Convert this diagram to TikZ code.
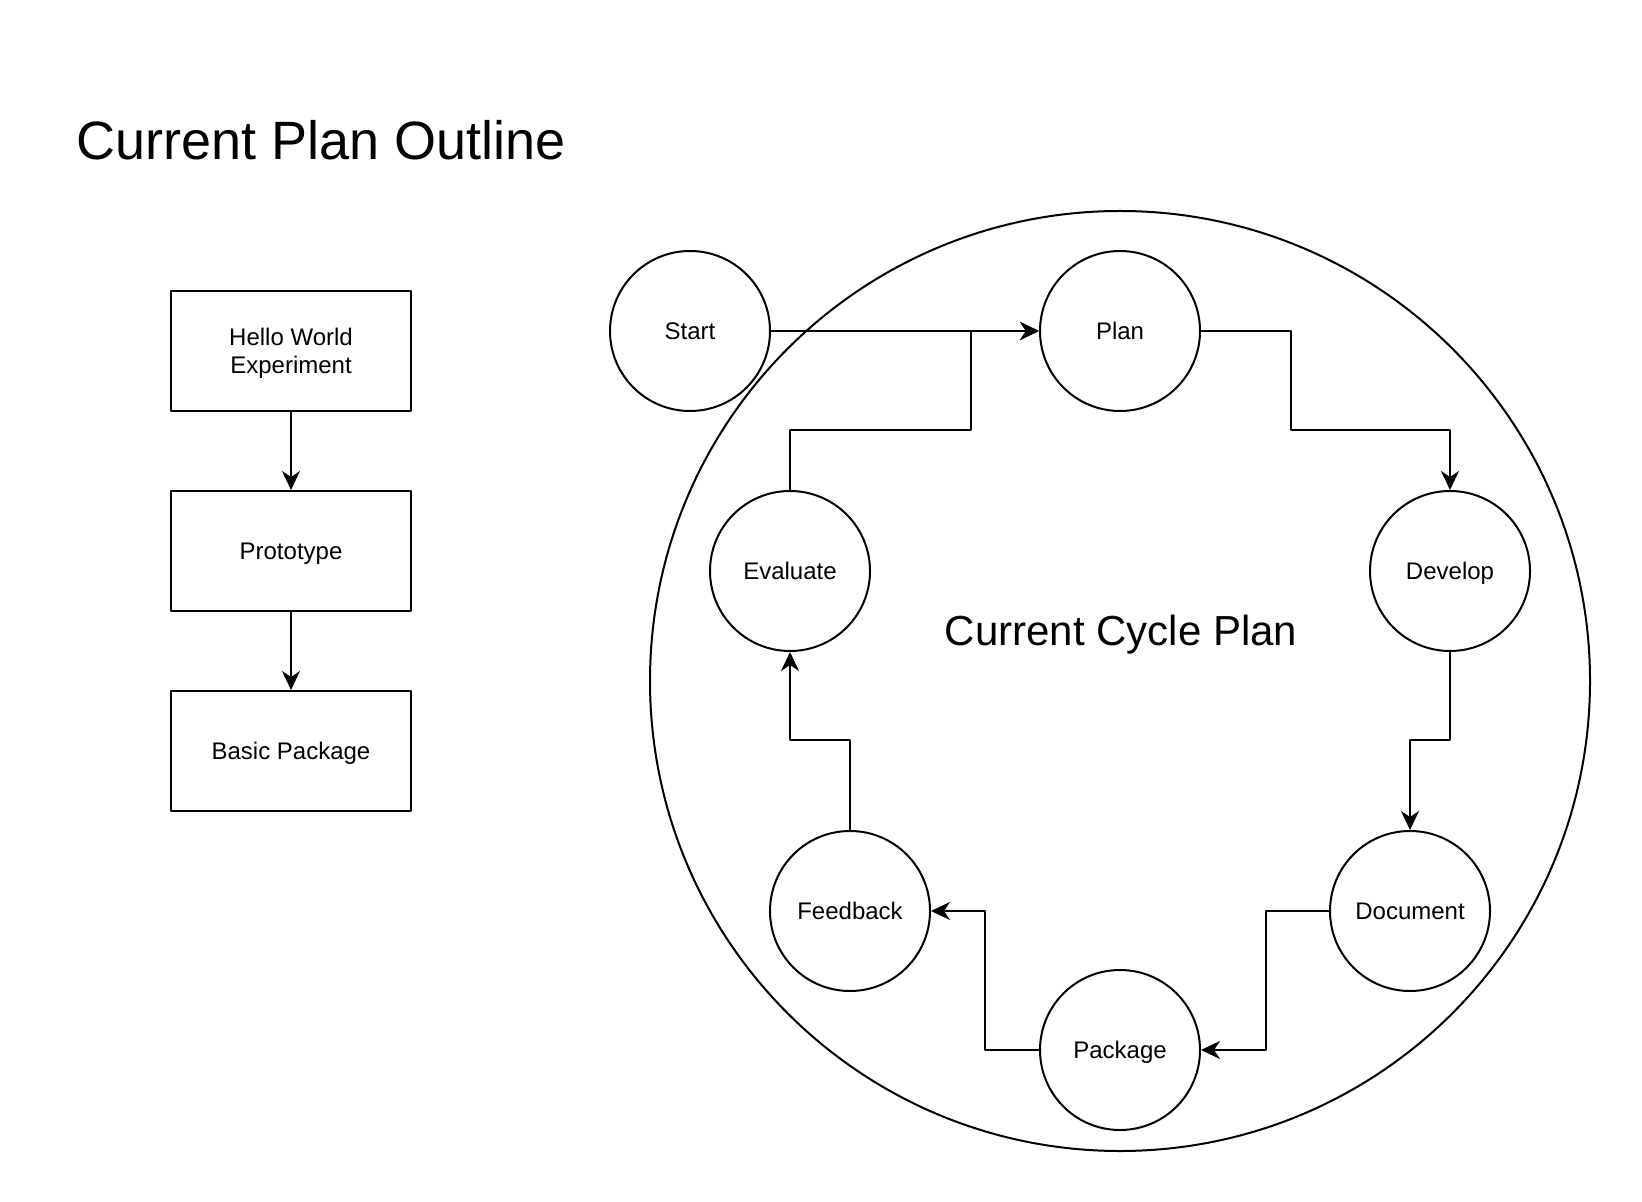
\documentclass[tikz,border=0pt]{standalone}
\usepackage{fontspec}
\setmainfont{Liberation Sans}
\usetikzlibrary{arrows.meta}
\usetikzlibrary{calc}

\begin{document}
\begin{tikzpicture}[x=0.5pt, y=-0.5pt, line join=round, line cap=round, >={Stealth[length=9.5pt,width=9pt,inset=3pt]},
                      vong/.style={draw, line width=1pt, circle, minimum size=80pt, inner sep=0pt, text depth=0pt, font=\fontsize{12}{14}\selectfont},
                      hop/.style={draw, line width=1pt, rectangle, minimum width=120pt, minimum height=60pt, inner sep=0pt, text depth=0pt, align=center, font=\fontsize{12}{14}\selectfont},
                      noi/.style={->, line width=1pt}]
                          \useasboundingbox (0,0) rectangle (1642,1202);
                          \def\r{470}% ban kinh vong lon
                          \coordinate (O) at (1120,681);
                          \draw[line width=1pt] (O) circle (\r);
                          % tieu de
                          \node[anchor=west, inner sep=0pt, font=\fontsize{27}{32}\selectfont] (tieude) at (76,140) {Current Plan Outline};
                          \node[inner sep=0pt, text depth=0pt, font=\fontsize{21}{25}\selectfont] (chuky) at (1121,630) {Current Cycle Plan};
                          % cot ben trai
                          \node[hop] (hello) at (291,351) {Hello World\\Experiment};
                          \node[hop] (proto) at (291,551) {Prototype};
                          \node[hop] (basic) at (291,751) {Basic Package};
                          \draw[noi] (hello) -- (proto);
                          \draw[noi] (proto) -- (basic);
                          % cac buoc cua chu ky
                          \node[vong] (start) at (690,331) {Start};
                          \node[vong] (plan) at (1120,331) {Plan};
                          \node[vong] (develop) at (1450,571) {Develop};
                          \node[vong] (document) at (1410,911) {Document};
                          \node[vong] (package) at (1120,1050) {Package};
                          \node[vong] (feedback) at (850,911) {Feedback};
                          \node[vong] (evaluate) at (790,571) {Evaluate};
                          \draw[noi] (start) -- (plan);
                          \draw[noi] (evaluate.north) -- (evaluate.north|-0,430) -| (971,331) -- (plan.west);
                          \draw[noi] (plan.east) -| (1291,430) -| (develop.north);
                          \draw[noi] (develop.south) |- (1410,740) -- (document.north);
                          \draw[noi] (document.west) -| (1266,1050) -- (package.east);
                          \draw[noi] (package.west) -| (985,911) -- (feedback.east);
                          \draw[noi] (feedback.north) |- (790,740) -- (evaluate.south);
                      \end{tikzpicture}
\end{document}
